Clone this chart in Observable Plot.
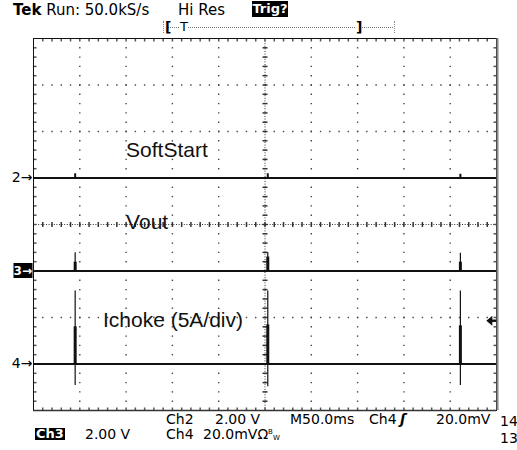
<!DOCTYPE html>
<html><head><meta charset="utf-8">
<script src="https://cdn.jsdelivr.net/npm/d3@7"></script>
<script src="https://cdn.jsdelivr.net/npm/@observablehq/plot@0.6"></script>
<style>
body{margin:0;background:#fff;}
#wrap{position:relative;width:517px;height:450px;overflow:hidden;font-family:"DejaVu Sans",sans-serif;color:#000;}
#wrap svg{position:absolute;left:0;top:0;}
.t{position:absolute;white-space:pre;line-height:1;}
.h{font-size:15px;}
.f{font-size:14px;}
.inv{background:#000;color:#fff;font-weight:bold;text-align:center;}
</style></head><body><div id="wrap"></div>
<script>
// ---- data (time in ms, 50 ms/div; amplitudes in divisions) ----
const timeDomain = [0, 500];
const divDomain = [-4, 4];
const channels = ["2", "3", "4"];
const channelOffsets = [1, -1, -3];
const spikeTimes = [45, 253, 461];
const ch2Bump = [0.09, 0.09, 0.08];
const ch3Peak = [0.39, 0.40, 0.38];
const ch3Body = [0.19, 0.30, 0.19];
const ch4Peak = [1.57, 1.57, 1.57];
const ch4Body = [0.80, 0.84, 0.82];
const ch4Dip = [-0.46, -0.49, -0.46];
const triggerTime = [489];
const triggerLevel = [-2.07];
const labels = ["SoftStart", "Vout", "Ichoke (5A/div)"];
const labelTimes = [100, 100, 75];
const labelLevels = [1.59, 0.04, -2.065];
const majorT = d3.range(0, 501, 50);
const minorT = d3.range(0, 501, 10);
const majorV = d3.range(-4, 5, 1);
const minorV = d3.range(-20, 21, 1).map(k => k / 5);
const headerTexts = ["Tek", " Run: 50.0kS/s", "Hi Res", "Trig?"];
const footerTexts = ["Ch2", "2.00 V", "M50.0ms", "Ch4", "ʃ", "20.0mV", "14", "Ch3", "2.00 V", "Ch4", "20.0mVΩ", "13"];

// ---- derived tables ----
const spikes = spikeTimes.map((t, i) => ({
  t, b2: ch2Bump[i], p3: ch3Peak[i], b3: ch3Body[i], p4: ch4Peak[i], b4: ch4Body[i], d4: ch4Dip[i]
}));
const ch2 = channelOffsets[0], ch3 = channelOffsets[1], ch4 = channelOffsets[2];
const inner = (arr, lo, hi, skip) => arr.filter(v => v > lo && v < hi && v !== skip);
const gridDots = [];
for (const t of inner(majorT, 0, 500, 250)) for (const v of inner(minorV, -4, 4)) gridDots.push({t, v});
for (const v of inner(majorV, -4, 4, 0)) for (const t of inner(minorT, 0, 500)) gridDots.push({t, v});
const markers = channels.map((c, i) => ({label: c + "→", v: channelOffsets[i], inv: c === "3"}));
const labelRows = labels.map((s, i) => ({s, t: labelTimes[i], v: labelLevels[i]}));
const trig = triggerTime.map((t, i) => ({t, v: triggerLevel[i]}));

// ---- custom symbols ----
const sym = f => ({draw: f});
const pixel = sym(c => c.rect(-0.7, -0.7, 1.4, 1.4));
const hTick = sym(c => { c.moveTo(-2.5, 0); c.lineTo(2.5, 0); });
const vTick = sym(c => { c.moveTo(0, -2.5); c.lineTo(0, 2.5); });
const tickDown = sym(c => { c.moveTo(0, 0); c.lineTo(0, 3); });
const tickUp = sym(c => { c.moveTo(0, 0); c.lineTo(0, -3); });
const tickRight = sym(c => { c.moveTo(0, 0); c.lineTo(3, 0); });
const tickLeft = sym(c => { c.moveTo(0, 0); c.lineTo(-3, 0); });
const box = sym(c => c.rect(-20, -8, 19, 15));
const arrow = sym(c => { c.moveTo(0, 0); c.lineTo(6, -5); c.lineTo(6, 5); c.closePath(); c.rect(6, -1.2, 4, 2.4); });

const inT = inner(minorT, 0, 500), inV = inner(minorV, -4, 4);

const chart = Plot.plot({
  width: 517, height: 450,
  marginLeft: 33, marginRight: 21, marginTop: 38, marginBottom: 40,
  x: {domain: timeDomain, axis: null},
  y: {domain: divDomain, axis: null},
  style: {background: "transparent", overflow: "visible"},
  marks: [
    Plot.dot(gridDots, {x: "t", y: "v", symbol: pixel, fill: "#444", stroke: "none", r: 1}),
    Plot.ruleX([250], {stroke: "#333", strokeDasharray: "1,1.6"}),
    Plot.ruleY([0], {stroke: "#333", strokeDasharray: "1,1.6"}),
    Plot.dot(inV, {x: () => 250, y: d => d, symbol: hTick, stroke: "#333", fill: "none", r: 1}),
    Plot.dot(inT, {x: d => d, y: () => 0, symbol: vTick, stroke: "#333", fill: "none", r: 1}),
    Plot.dot(inT, {x: d => d, y: () => 4, symbol: tickDown, stroke: "#555", fill: "none", r: 1}),
    Plot.dot(inT, {x: d => d, y: () => -4, symbol: tickUp, stroke: "#555", fill: "none", r: 1}),
    Plot.dot(inV, {x: () => 0, y: d => d, symbol: tickRight, stroke: "#555", fill: "none", r: 1}),
    Plot.dot(inV, {x: () => 500, y: d => d, symbol: tickLeft, stroke: "#555", fill: "none", r: 1}),
    Plot.frame({stroke: "#111"}),
    Plot.ruleX([500], {stroke: "#888", strokeWidth: 2, dx: 1}),
    Plot.ruleY([-4], {stroke: "#333", strokeWidth: 1.5}),
    // traces
    Plot.ruleY(channelOffsets, {stroke: "#111", strokeWidth: 1.8}),
    Plot.ruleX(spikes, {x: "t", y1: () => ch2, y2: d => ch2 + d.b2, stroke: "#111", strokeWidth: 2}),
    Plot.ruleX(spikes, {x: "t", y1: () => ch3, y2: d => ch3 + d.p3, stroke: "#111", strokeWidth: 1.2}),
    Plot.ruleX(spikes, {x: "t", y1: () => ch3, y2: d => ch3 + d.b3, stroke: "#111", strokeWidth: 3}),
    Plot.ruleX(spikes, {x: "t", y1: d => ch4 + d.d4, y2: d => ch4 + d.p4, stroke: "#111", strokeWidth: 1.2}),
    Plot.ruleX(spikes, {x: "t", y1: () => ch4, y2: d => ch4 + d.b4, stroke: "#111", strokeWidth: 3}),
    Plot.dot(trig, {x: "t", y: "v", symbol: arrow, fill: "#111", stroke: "none", r: 1}),
    // labels
    Plot.text(labelRows, {x: "t", y: "v", text: "s", textAnchor: "start", fontFamily: "Liberation Sans, Arial, sans-serif", fontSize: 21, fill: "#111"}),
    // channel markers
    Plot.dot(markers.filter(d => d.inv), {x: () => 0, y: "v", symbol: box, fill: "#000", stroke: "none", r: 1}),
    Plot.text(markers.filter(d => !d.inv), {x: () => 0, y: "v", text: "label", textAnchor: "end", dx: -1, fontFamily: "DejaVu Sans", fontSize: 14, fill: "#000"}),
    Plot.text(markers.filter(d => d.inv), {x: () => 0, y: "v", text: "label", textAnchor: "end", dx: -1.5, fontFamily: "DejaVu Sans", fontSize: 12, fontWeight: "bold", fill: "#fff"})
  ]
});

const wrap = document.getElementById("wrap");
wrap.appendChild(chart);

function addText(txt, cls, css) {
  const s = document.createElement("div");
  s.className = "t " + cls;
  s.textContent = txt;
  Object.assign(s.style, css);
  wrap.appendChild(s);
  return s;
}
// header
const tek = addText("", "h", {left: "13px", top: "3px"});
tek.innerHTML = "<b>" + headerTexts[0] + "</b>" + headerTexts[1];
addText(headerTexts[2], "h", {left: "178px", top: "3px"});
addText(headerTexts[3], "inv", {left: "252px", top: "1px", width: "36px", height: "16px", fontSize: "13px", lineHeight: "16px"});
// record bar
const bar = document.createElement("div");
Object.assign(bar.style, {position: "absolute", left: "163px", top: "21px", width: "230px", height: "12px",
  borderLeft: "1px dotted #888", borderRight: "1px dotted #888"});
wrap.appendChild(bar);
const barLine = document.createElement("div");
Object.assign(barLine.style, {position: "absolute", left: "168px", top: "27px", width: "225px", height: "0",
  borderTop: "1px dotted #777"});
wrap.appendChild(barLine);
addText("[", "f", {left: "165px", top: "20px", fontWeight: "bold"});
addText("T", "f", {left: "180px", top: "20px", background: "#fff", fontSize: "13px"});
addText("]", "f", {left: "356px", top: "20px", fontWeight: "bold", background: "#fff"});
// footer row 1
const r1 = "412px", r2 = "427px";
addText(footerTexts[0], "f", {left: "166px", top: r1});
addText(footerTexts[1], "f", {left: "215px", top: r1});
addText(footerTexts[2], "f", {left: "290px", top: r1});
addText(footerTexts[3], "f", {left: "369px", top: r1});
addText(footerTexts[4], "f", {left: "400px", top: r1, fontStyle: "italic", fontWeight: "bold"});
addText(footerTexts[5], "f", {left: "436px", top: r1});
addText(footerTexts[6], "f", {left: "500px", top: "414px"});
// footer row 2
addText(footerTexts[7], "inv", {left: "35px", top: "428px", width: "30px", height: "12px", fontSize: "13px", lineHeight: "12px"});
addText(footerTexts[8], "f", {left: "85px", top: r2});
addText(footerTexts[9], "f", {left: "166px", top: r2});
const bw = addText(footerTexts[10], "f", {left: "203px", top: r2});
bw.innerHTML = footerTexts[10] + "<span style='font-size:7px;vertical-align:5px'>B</span><span style='font-size:7px;vertical-align:-1px'>W</span>";
addText(footerTexts[11], "f", {left: "500px", top: "431px"});
</script>
</body></html>
